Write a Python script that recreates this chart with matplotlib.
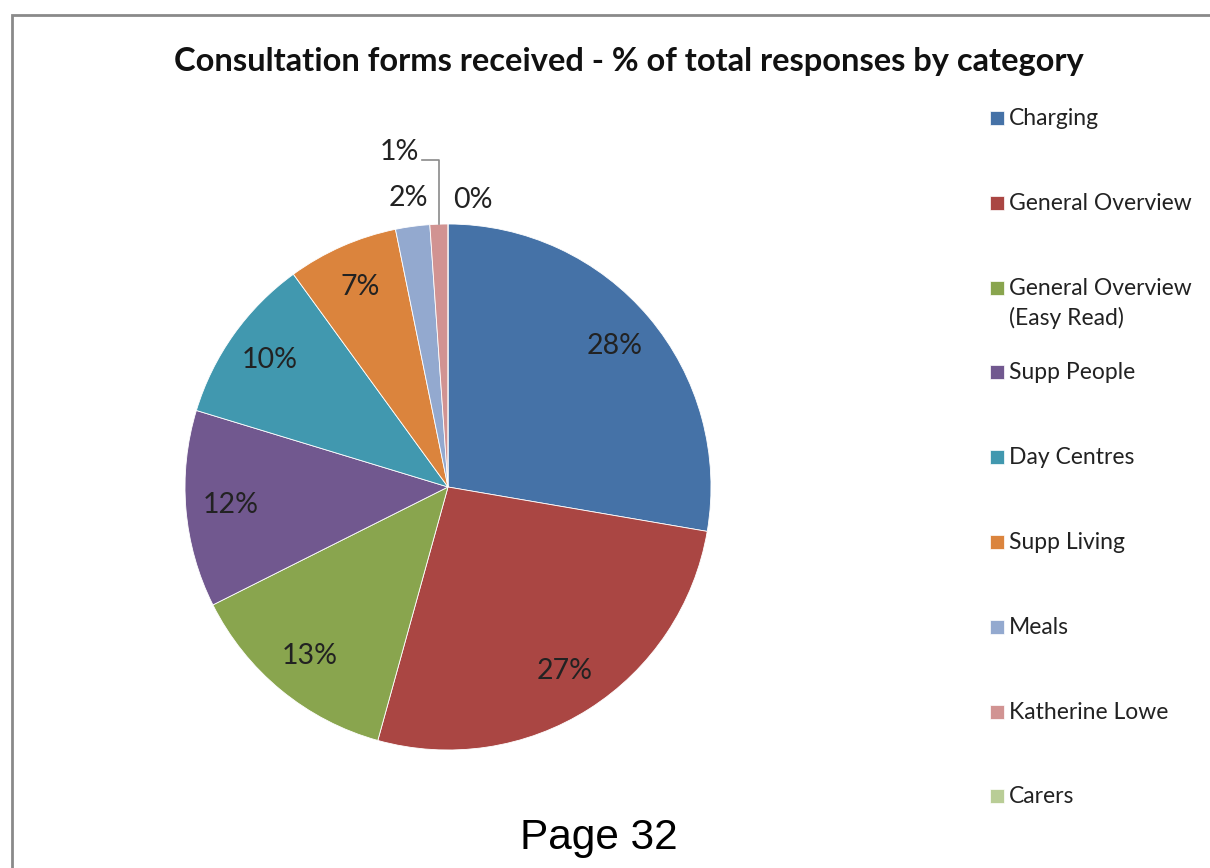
import numpy as np
import matplotlib
matplotlib.use("Agg")
import matplotlib.pyplot as plt
from matplotlib.patches import Rectangle

plt.rcParams['font.family'] = ['Lato', 'DejaVu Sans']

# responses by category, % of total
categories = ['Charging', 'General Overview', 'General Overview\n(Easy Read)',
              'Supp People', 'Day Centres', 'Supp Living', 'Meals',
              'Katherine Lowe', 'Carers']
shares = [27.7, 26.6, 13.3, 12.1, 10.3, 6.8, 2.1, 1.1, 0.0]
colours = ['#4572A7', '#AA4643', '#89A54E', '#71588F', '#4198AF',
           '#DB843D', '#93A9CF', '#D19392', '#B9CD96']

W, H = 1210, 868
fig = plt.figure(figsize=(W / 100, H / 100), dpi=100)

# chart frame, runs off the page to the right and bottom
fig.add_artist(Rectangle((12 / W, -0.05), 1.1, 1 - 15 / H + 0.05,
                         transform=fig.transFigure, fill=False,
                         edgecolor='#8a8a8a', linewidth=2))

fig.text(629 / W, 1 - 61 / H,
         'Consultation forms received - % of total responses by category',
         ha='center', va='center', fontsize=23.5, fontweight='bold',
         color='#111111')

# pie: centre (448, 487) px, radius 263 px
cx, cy, r = 448, 487, 263
ax = fig.add_axes([(cx - r) / W, (H - cy - r) / H, 2 * r / W, 2 * r / H])
wedges, _ = ax.pie(shares, colors=colours, startangle=90, counterclock=False,
                   radius=1, wedgeprops=dict(edgecolor='white', linewidth=0.6))
ax.set_xlim(-1, 1)
ax.set_ylim(-1, 1)
ax.set_aspect('equal')
ax.axis('off')

lab_kw = dict(fontsize=20.5, color='#222222', ha='center', va='center',
              clip_on=False)
for w, v in zip(wedges, shares):
    mid = np.deg2rad((w.theta1 + w.theta2) / 2)
    txt = f'{round(v)}%'
    dx, dy = np.cos(mid), np.sin(mid)
    if v >= 5:
        ax.text(0.83 * dx, 0.83 * dy, txt, **lab_kw)
    elif v >= 2:
        ax.text(1.11 * dx, 1.11 * dy, txt, **lab_kw)
    elif v >= 1:
        # small slice: label pulled up with a leader line
        x0, y0 = 1.0 * dx, 1.0 * dy
        ax.plot([x0, x0, x0 - 0.065], [y0, 1.245, 1.245], color='#8a8a8a',
                lw=1.2, clip_on=False)
        ax.text(x0 - 0.075, 1.275, txt, **dict(lab_kw, ha='right'))
    else:
        ax.text(1.09 * dx + 0.095, 1.09 * dy, txt, **lab_kw)

# legend down the right hand side
ly = 118
for name, col in zip(categories, colours):
    fig.add_artist(Rectangle((990 / W, 1 - (ly + 7) / H), 14 / W, 14 / H,
                             transform=fig.transFigure, facecolor=col,
                             edgecolor='white', linewidth=0.5))
    fig.text(1009 / W, 1 - (ly - 10) / H, name, ha='left', va='top',
             fontsize=16.5, color='#222222', linespacing=1.45)
    ly += 84.8

fig.text(599 / W, 1 - 838 / H, 'Page 32', ha='center', va='center',
         fontsize=30.5, family='Liberation Sans', color='black')

fig.savefig('out.png', dpi=100, facecolor='white')
